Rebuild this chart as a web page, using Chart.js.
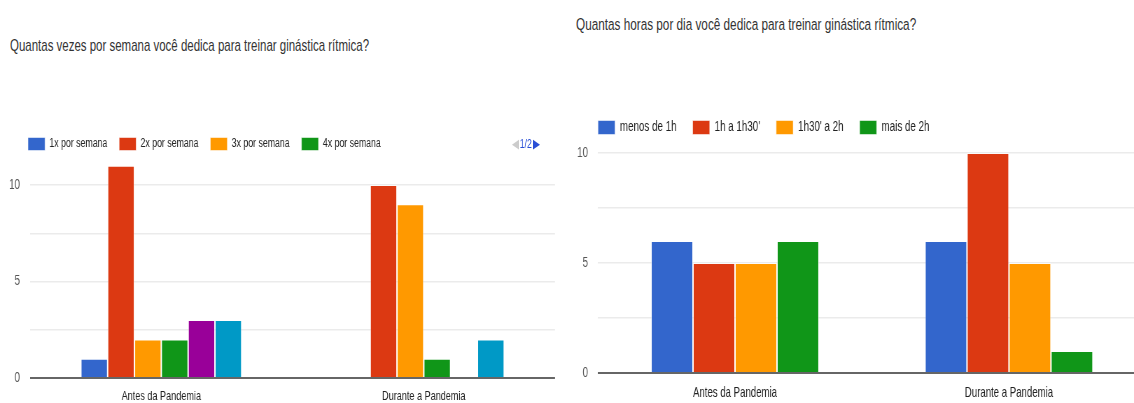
<!DOCTYPE html>
<html><head><meta charset="utf-8">
<script src="https://cdn.jsdelivr.net/npm/chart.js@4.4.1/dist/chart.umd.min.js"></script>
<style>
html,body{margin:0;padding:0;background:#fff;}
body{width:1134px;height:403px;overflow:hidden;position:relative;font-family:'Liberation Sans',Arial,sans-serif;}
.sx{position:absolute;transform:scaleX(0.7);transform-origin:0 0;}
.title{color:#333;white-space:nowrap;line-height:20px;}
#t1{left:10px;top:35px;font-size:16.4px;}
#t2{left:576px;top:15px;font-size:16.8px;}
#c1wrap{left:0;top:0;width:800px;height:403px;overflow:hidden;}
#c2wrap{left:560px;top:0;width:860px;height:403px;overflow:hidden;}
#pager{left:512px;top:136px;font-size:12.5px;line-height:16px;color:#2a4fd6;white-space:nowrap;}
#pager .off{color:#ccc;}
</style></head><body>
<div class="sx title" id="t1">Quantas vezes por semana você dedica para treinar ginástica rítmica?</div>
<div class="sx title" id="t2">Quantas horas por dia você dedica para treinar ginástica rítmica?</div>
<div class="sx" id="c1wrap"><canvas id="c1" width="800" height="403" style="width:800px;height:403px"></canvas></div>
<div class="sx" id="c2wrap"><canvas id="c2" width="860" height="403" style="width:860px;height:403px"></canvas></div>
<div class="sx" id="pager"><span class="off">&#9664;</span>&#8202;1/2&#8202;&#9654;</div>
<script>
const categories = ['Antes da Pandemia', 'Durante a Pandemia'];

const freqLabels = ['1x por semana', '2x por semana', '3x por semana', '4x por semana', '5x por semana', '6x por semana'];
const freq1x = [1, 0];
const freq2x = [11, 10];
const freq3x = [2, 9];
const freq4x = [2, 1];
const freq5x = [3, 0];
const freq6x = [3, 2];

const hoursLabels = ['menos de 1h', "1h a 1h30'", "1h30' a 2h", 'mais de 2h'];
const hMenos1 = [6, 6];
const h1a130 = [5, 10];
const h130a2 = [5, 5];
const hMais2 = [6, 1];

const yTickLabels = [0, 5, 10];
const palette = ['#3366cc', '#dc3912', '#ff9900', '#109618', '#990099', '#0099c6'];

const FONT = "'Liberation Sans', Arial, sans-serif";

// moves the (full-width) legend so its first item starts where the reference has it
const legendShift = {
  id: 'legendShift',
  afterLayout(chart, args, opts) {
    const lg = chart.legend;
    if (lg && opts.left !== undefined) {
      const d = opts.left - lg.left;
      lg.left += d;
      lg.right += d;
    }
  }
};

function makeDatasets(labels, series) {
  return series.map((d, i) => ({
    label: labels[i],
    data: d,
    backgroundColor: palette[i],
    borderColor: 'rgba(255,255,255,0.55)',
    borderWidth: ctx => (ctx.raw === 0 ? 0 : 1),
    borderSkipped: 'bottom',
    categoryPercentage: 0.613,
    barPercentage: 1
  }));
}

function makeChart(id, cfg) {
  return new Chart(document.getElementById(id), {
    type: 'bar',
    data: { labels: categories, datasets: cfg.datasets },
    plugins: [legendShift],
    options: {
      responsive: false,
      animation: false,
      layout: { padding: cfg.padding },
      plugins: {
        legendShift: { left: cfg.legLeft },
        title: { display: false },
        tooltip: { enabled: false },
        legend: {
          position: 'top',
          align: 'start',
          labels: {
            boxWidth: 24.3,
            boxHeight: cfg.boxH,
            padding: cfg.legPad,
            color: '#222',
            font: { family: FONT, size: cfg.legFont },
            filter: item => item.datasetIndex < 4
          }
        }
      },
      scales: {
        x: {
          afterFit: s => { s.height = cfg.xH; },
          grid: { display: false, drawTicks: false },
          border: { display: false },
          ticks: { color: '#222', padding: cfg.xPad, font: { family: FONT, size: cfg.xFont, lineHeight: 1 } }
        },
        y: {
          min: 0,
          max: cfg.max,
          afterFit: s => { s.width = cfg.yW; },
          border: { display: false },
          grid: {
            drawTicks: false,
            color: c => (c.tick && c.tick.value === 0 ? '#666' : '#ebebeb'),
            lineWidth: c => (c.tick && c.tick.value === 0 ? 2 : 1.5)
          },
          ticks: {
            stepSize: 2.5,
            includeBounds: false,
            padding: cfg.yPad,
            color: '#555',
            font: { family: FONT, size: cfg.yFont, lineHeight: 1 },
            callback: v => (yTickLabels.includes(v) ? String(v) : '')
          }
        }
      }
    }
  });
}

makeChart('c1', {
  datasets: makeDatasets(freqLabels, [freq1x, freq2x, freq3x, freq4x, freq5x, freq6x]),
  padding: { left: 2.9, top: 120.5, right: 7.1, bottom: 0 },
  legLeft: 23,
  boxH: 13, legPad: 17, legFont: 12.5,
  xPad: 12, xFont: 13, xH: 25, yW: 40, yPad: 14.3, yFont: 14,
  max: 11.27
});

makeChart('c2', {
  datasets: makeDatasets(hoursLabels, [hMenos1, h1a130, h130a2, hMais2]),
  padding: { left: 14.3, top: 97.5, right: 22.9, bottom: 3.15 },
  legLeft: 31.3,
  boxH: 14, legPad: 23, legFont: 14,
  xPad: 13.1, xFont: 13.75, xH: 26.85, yW: 40, yPad: 14.3, yFont: 14,
  max: 10.386
});
</script>
</body></html>
